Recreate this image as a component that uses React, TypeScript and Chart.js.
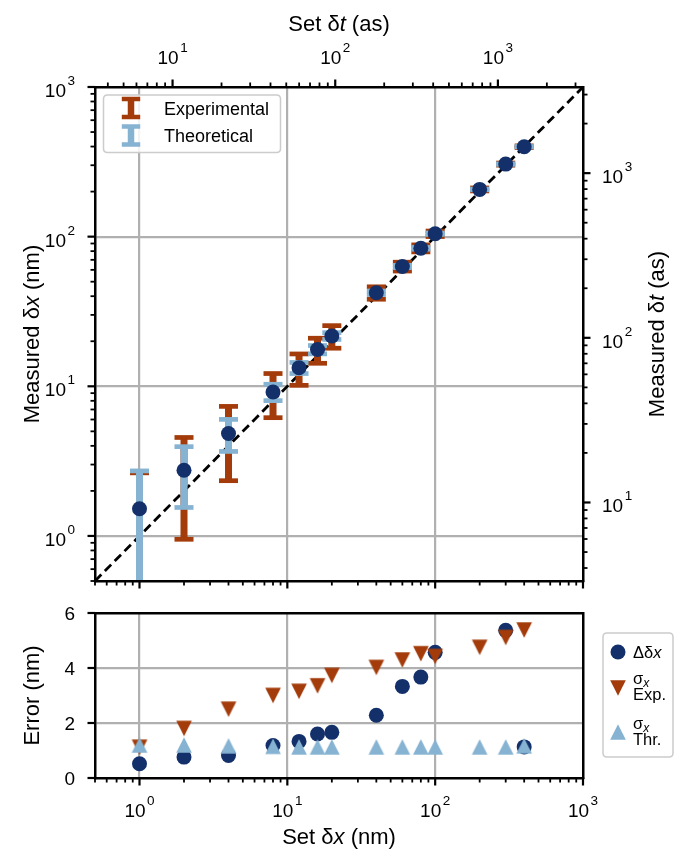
import React, { useEffect, useRef } from 'react';
import { Chart, registerables } from 'chart.js';

Chart.register(...registerables);

// ---------- data ----------
const setDx = [1, 2, 4, 8, 12, 16, 20, 40, 60, 80, 100, 200, 300, 400];
const measuredDx = [1.52, 2.75, 4.84, 9.17, 13.3, 17.6, 21.7, 42.2, 63.2, 83.6, 104.6, 206.8, 305.4, 398.9];
const sigmaExp = [1.12, 1.8, 2.5, 3.0, 3.15, 3.35, 3.73, 4.02, 4.29, 4.52, 4.42, 4.75, 5.11, 5.38];
const sigmaThr = [1.2, 1.2, 1.17, 1.15, 1.13, 1.13, 1.13, 1.13, 1.13, 1.13, 1.13, 1.13, 1.13, 1.17];
const deltaDx = [0.52, 0.76, 0.82, 1.18, 1.33, 1.6, 1.66, 2.28, 3.33, 3.67, 4.57, 6.8, 5.37, 1.13];

const xLimits = [0.5, 1000];
const yLimitsTop = [0.5, 1000];
const twinLimits = [3.3356, 3335.6];
const errLimits = [0, 6];
const errTicks = [0, 2, 4, 6];

// ---------- style ----------
const NAVY = '#13306a';
const RED = '#a33b0a';
const LBLUE = '#86b3d2';
const GRID = '#b0b0b0';
const CLEAR = 'rgba(0,0,0,0)';
const FONT = '"Liberation Sans", Arial, Helvetica, sans-serif';
const TICK = 19;
const SUP = 13.5;
const RAISE = 12;
const TITLE = 22;

type Part = { t: string; it?: boolean; size: number; dy?: number; dx?: number };

function fontOf(p: Part) {
  return `${p.it ? 'italic ' : ''}${p.size}px ${FONT}`;
}

function drawRich(ctx: CanvasRenderingContext2D, parts: Part[], x: number, y: number, align: 'left' | 'center' | 'right', rot = 0) {
  ctx.save();
  ctx.translate(x, y);
  if (rot) ctx.rotate(rot);
  ctx.textBaseline = 'alphabetic';
  ctx.textAlign = 'left';
  ctx.fillStyle = '#000';
  let total = 0;
  const widths = parts.map((p) => {
    ctx.font = fontOf(p);
    const w = ctx.measureText(p.t).width + (p.dx || 0);
    total += w;
    return w;
  });
  let cx = align === 'left' ? 0 : align === 'center' ? -total / 2 : -total;
  parts.forEach((p, i) => {
    ctx.font = fontOf(p);
    ctx.fillText(p.t, cx + (p.dx || 0), p.dy || 0);
    cx += widths[i];
  });
  ctx.restore();
}

function pow10(e: number): Part[] {
  return [
    { t: '10', size: TICK },
    { t: String(e), size: SUP, dy: -RAISE, dx: 1.5 },
  ];
}

function isMajor(v: number) {
  const l = Math.log10(v);
  return Math.abs(l - Math.round(l)) < 1e-6;
}

function logTicks(min: number, max: number) {
  const out: number[] = [];
  for (let e = Math.floor(Math.log10(min)); e <= Math.ceil(Math.log10(max)); e++) {
    for (let m = 1; m <= 9; m++) {
      const v = parseFloat((m * Math.pow(10, e)).toPrecision(12));
      if (v >= min * (1 - 1e-9) && v <= max * (1 + 1e-9)) out.push(v);
    }
  }
  return out;
}

const spine = { display: true, color: '#000', width: 2.5, z: 1 };

function logAxis(pos: string, lim: number[], size: number, grid: boolean) {
  return {
    type: 'logarithmic',
    position: pos,
    min: lim[0],
    max: lim[1],
    ticks: { display: false, callback: () => '' },
    grid: grid
      ? {
          drawOnChartArea: true,
          drawTicks: false,
          lineWidth: 2.2,
          color: (c: any) =>
            c.tick && isMajor(c.tick.value) && c.tick.value > lim[0] * 1.0001 && c.tick.value < lim[1] * 0.9999 ? GRID : CLEAR,
        }
      : { drawOnChartArea: false, drawTicks: false },
    border: spine,
    afterBuildTicks: (s: any) => {
      s.ticks = logTicks(lim[0], lim[1]).map((value) => ({ value }));
    },
    afterFit: (s: any) => {
      if (pos === 'left' || pos === 'right') s.width = size;
      else s.height = size;
    },
  };
}

function plainAxis(pos: string, size: number) {
  return {
    type: 'linear',
    position: pos,
    display: true,
    ticks: { display: false },
    grid: { drawOnChartArea: false, drawTicks: false },
    border: spine,
    afterFit: (s: any) => {
      if (pos === 'left' || pos === 'right') s.width = size;
      else s.height = size;
    },
  };
}

function drawTickMarks(ctx: CanvasRenderingContext2D, chart: any, scaleId: string, side: string, values: number[], majorFn: (v: number) => boolean) {
  const a = chart.chartArea;
  const s = chart.scales[scaleId];
  ctx.save();
  ctx.strokeStyle = '#000';
  values.forEach((v) => {
    const p = s.getPixelForValue(v);
    const major = majorFn(v);
    const len = major ? 7.5 : 4.5;
    ctx.lineWidth = major ? 2.2 : 1.8;
    ctx.beginPath();
    if (side === 'left') { ctx.moveTo(a.left, p); ctx.lineTo(a.left - len, p); }
    if (side === 'right') { ctx.moveTo(a.right, p); ctx.lineTo(a.right + len, p); }
    if (side === 'top') { ctx.moveTo(p, a.top); ctx.lineTo(p, a.top - len); }
    if (side === 'bottom') { ctx.moveTo(p, a.bottom); ctx.lineTo(p, a.bottom + len); }
    ctx.stroke();
  });
  ctx.restore();
}

function roundRect(ctx: CanvasRenderingContext2D, x: number, y: number, w: number, h: number, r: number) {
  ctx.beginPath();
  ctx.moveTo(x + r, y);
  ctx.lineTo(x + w - r, y);
  ctx.quadraticCurveTo(x + w, y, x + w, y + r);
  ctx.lineTo(x + w, y + h - r);
  ctx.quadraticCurveTo(x + w, y + h, x + w - r, y + h);
  ctx.lineTo(x + r, y + h);
  ctx.quadraticCurveTo(x, y + h, x, y + h - r);
  ctx.lineTo(x, y + r);
  ctx.quadraticCurveTo(x, y, x + r, y);
  ctx.closePath();
}

function legendBox(ctx: CanvasRenderingContext2D, x: number, y: number, w: number, h: number) {
  ctx.save();
  roundRect(ctx, x, y, w, h, 4);
  ctx.fillStyle = 'rgba(255,255,255,0.85)';
  ctx.fill();
  ctx.strokeStyle = '#cccccc';
  ctx.lineWidth = 1.5;
  ctx.stroke();
  ctx.restore();
}

function errIcon(ctx: CanvasRenderingContext2D, cx: number, cy: number, color: string) {
  ctx.save();
  ctx.strokeStyle = color;
  ctx.lineWidth = 6.5;
  ctx.beginPath();
  ctx.moveTo(cx, cy - 9);
  ctx.lineTo(cx, cy + 9);
  ctx.stroke();
  ctx.lineWidth = 4.5;
  ctx.beginPath();
  ctx.moveTo(cx - 9.2, cy - 9);
  ctx.lineTo(cx + 9.2, cy - 9);
  ctx.moveTo(cx - 9.2, cy + 9);
  ctx.lineTo(cx + 9.2, cy + 9);
  ctx.stroke();
  ctx.restore();
}

function triPath(ctx: CanvasRenderingContext2D, cx: number, cy: number, h: number, up: boolean) {
  ctx.beginPath();
  if (up) {
    ctx.moveTo(cx, cy - h);
    ctx.lineTo(cx + h, cy + h);
    ctx.lineTo(cx - h, cy + h);
  } else {
    ctx.moveTo(cx - h, cy - h);
    ctx.lineTo(cx + h, cy - h);
    ctx.lineTo(cx, cy + h);
  }
  ctx.closePath();
}

function triCanvas(color: string, up: boolean) {
  const c = document.createElement('canvas');
  c.width = 18;
  c.height = 18;
  const g = c.getContext('2d')!;
  g.fillStyle = color;
  triPath(g, 9, 9, 7.8, up);
  g.fill();
  return c;
}

// ---------- plugins ----------
const topDecor = {
  id: 'topDecor',
  afterDraw(chart: any) {
    const ctx: CanvasRenderingContext2D = chart.ctx;
    const a = chart.chartArea;
    const lt = logTicks(xLimits[0], xLimits[1]);
    const ltY = logTicks(yLimitsTop[0], yLimitsTop[1]);
    const tw = logTicks(twinLimits[0], twinLimits[1]);
    drawTickMarks(ctx, chart, 'x', 'bottom', lt, isMajor);
    drawTickMarks(ctx, chart, 'x2', 'top', tw, isMajor);
    drawTickMarks(ctx, chart, 'y', 'left', ltY, isMajor);
    drawTickMarks(ctx, chart, 'y2', 'right', tw, isMajor);

    ltY.filter(isMajor).forEach((v) => {
      const p = chart.scales.y.getPixelForValue(v);
      drawRich(ctx, pow10(Math.round(Math.log10(v))), a.left - 20, p + 10, 'right');
    });
    tw.filter(isMajor).forEach((v) => {
      const p = chart.scales.y2.getPixelForValue(v);
      drawRich(ctx, pow10(Math.round(Math.log10(v))), a.right + 19, p + 10, 'left');
      const px = chart.scales.x2.getPixelForValue(v);
      drawRich(ctx, pow10(Math.round(Math.log10(v))), px, a.top - 23, 'center');
    });

    const midX = (a.left + a.right) / 2;
    const midY = (a.top + a.bottom) / 2;
    drawRich(ctx, [{ t: 'Set δ', size: TITLE }, { t: 't', it: true, size: TITLE }, { t: ' (as)', size: TITLE }], midX, 31, 'center');
    drawRich(ctx, [{ t: 'Measured δ', size: TITLE }, { t: 'x', it: true, size: TITLE }, { t: ' (nm)', size: TITLE }], 39, midY, 'center', -Math.PI / 2);
    drawRich(ctx, [{ t: 'Measured δ', size: TITLE }, { t: 't', it: true, size: TITLE }, { t: ' (as)', size: TITLE }], 664, midY, 'center', -Math.PI / 2);

    // legend
    legendBox(ctx, 103.5, 95, 177, 57.5);
    errIcon(ctx, 131, 108, RED);
    errIcon(ctx, 131, 135.5, LBLUE);
    drawRich(ctx, [{ t: 'Experimental', size: 18 }], 164, 114.5, 'left');
    drawRich(ctx, [{ t: 'Theoretical', size: 18 }], 164, 142, 'left');
  },
};

const botDecor = {
  id: 'botDecor',
  afterDraw(chart: any) {
    const ctx: CanvasRenderingContext2D = chart.ctx;
    const a = chart.chartArea;
    const lt = logTicks(xLimits[0], xLimits[1]);
    drawTickMarks(ctx, chart, 'x', 'bottom', lt, isMajor);
    drawTickMarks(ctx, chart, 'y', 'left', errTicks, () => true);
    lt.filter(isMajor).forEach((v) => {
      const p = chart.scales.x.getPixelForValue(v);
      drawRich(ctx, pow10(Math.round(Math.log10(v))), p, a.bottom + 39, 'center');
    });
    errTicks.forEach((v) => {
      const p = chart.scales.y.getPixelForValue(v);
      drawRich(ctx, [{ t: String(v), size: TICK }], a.left - 20, p + 7, 'right');
    });
    const midX = (a.left + a.right) / 2;
    const midY = (a.top + a.bottom) / 2;
    drawRich(ctx, [{ t: 'Set δ', size: TITLE }, { t: 'x', it: true, size: TITLE }, { t: ' (nm)', size: TITLE }], midX, 243.5, 'center');
    drawRich(ctx, [{ t: 'Error (nm)', size: TITLE }], 39, midY, 'center', -Math.PI / 2);

    // legend
    legendBox(ctx, 603, 33, 70, 124);
    ctx.save();
    ctx.fillStyle = NAVY;
    ctx.beginPath();
    ctx.arc(618, 52, 7.5, 0, Math.PI * 2);
    ctx.fill();
    ctx.fillStyle = RED;
    triPath(ctx, 618, 88, 7.8, false);
    ctx.fill();
    ctx.fillStyle = LBLUE;
    triPath(ctx, 618, 132, 7.8, true);
    ctx.fill();
    ctx.restore();
    drawRich(ctx, [{ t: 'Δδ', size: 16.5 }, { t: 'x', it: true, size: 16.5 }], 633, 58, 'left');
    drawRich(ctx, [{ t: 'σ', size: 16.5 }, { t: 'x', it: true, size: 12, dy: 3 }], 633, 84, 'left');
    drawRich(ctx, [{ t: 'Exp.', size: 16.5 }], 633, 100, 'left');
    drawRich(ctx, [{ t: 'σ', size: 16.5 }, { t: 'x', it: true, size: 12, dy: 3 }], 633, 129, 'left');
    drawRich(ctx, [{ t: 'Thr.', size: 16.5 }], 633, 145, 'left');
  },
};

function errData(sig: number[]) {
  return setDx.flatMap((x, i) => [
    { x, y: Math.max(measuredDx[i] - sig[i], 1e-3) },
    { x, y: measuredDx[i] + sig[i] },
    { x, y: null },
  ]);
}

function errDataset(label: string, sig: number[], color: string, order: number) {
  return {
    label,
    data: errData(sig),
    showLine: true,
    spanGaps: false,
    borderColor: color,
    borderWidth: 7,
    pointStyle: 'line',
    pointRadius: 9.5,
    pointBorderWidth: 4.7,
    pointBorderColor: color,
    pointBackgroundColor: color,
    clip: 0,
    order,
    xAxisID: 'x',
    yAxisID: 'y',
  };
}

function topConfig(): any {
  return {
    type: 'scatter',
    data: {
      datasets: [
        {
          label: 'identity',
          data: xLimits.map((v) => ({ x: v, y: v })),
          showLine: true,
          borderColor: '#000',
          borderWidth: 2.8,
          borderDash: [9, 5],
          pointRadius: 0,
          clip: 0,
          order: 4,
          xAxisID: 'x',
          yAxisID: 'y',
        },
        errDataset('Experimental', sigmaExp, RED, 3),
        errDataset('Theoretical', sigmaThr, LBLUE, 2),
        {
          label: 'Measured',
          data: setDx.map((x, i) => ({ x, y: measuredDx[i] })),
          showLine: false,
          pointRadius: 7.5,
          pointBorderWidth: 0,
          pointBackgroundColor: NAVY,
          pointBorderColor: NAVY,
          clip: 0,
          order: 1,
          xAxisID: 'x',
          yAxisID: 'y',
        },
      ],
    },
    options: {
      responsive: false,
      animation: false,
      events: [],
      layout: { padding: 0 },
      plugins: { legend: { display: false }, tooltip: { enabled: false } },
      scales: {
        x: logAxis('bottom', xLimits, 19, true),
        y: logAxis('left', yLimitsTop, 95, true),
        x2: logAxis('top', twinLimits, 87, false),
        y2: logAxis('right', twinLimits, 93, false),
      },
    },
    plugins: [topDecor],
  };
}

function botConfig(): any {
  const down = triCanvas(RED, false);
  const up = triCanvas(LBLUE, true);
  return {
    type: 'scatter',
    data: {
      datasets: [
        {
          label: 'Δδx',
          data: setDx.map((x, i) => ({ x, y: deltaDx[i] })),
          pointRadius: 7.5,
          pointBorderWidth: 0,
          pointBackgroundColor: NAVY,
          pointBorderColor: NAVY,
          clip: 0,
          order: 3,
          xAxisID: 'x',
          yAxisID: 'y',
        },
        {
          label: 'σx Exp.',
          data: setDx.map((x, i) => ({ x, y: sigmaExp[i] })),
          pointStyle: down,
          pointRadius: 8,
          clip: 0,
          order: 2,
          xAxisID: 'x',
          yAxisID: 'y',
        },
        {
          label: 'σx Thr.',
          data: setDx.map((x, i) => ({ x, y: sigmaThr[i] })),
          pointStyle: up,
          pointRadius: 8,
          clip: 0,
          order: 1,
          xAxisID: 'x',
          yAxisID: 'y',
        },
      ],
    },
    options: {
      responsive: false,
      animation: false,
      events: [],
      layout: { padding: 0 },
      plugins: { legend: { display: false }, tooltip: { enabled: false } },
      scales: {
        x: logAxis('bottom', xLimits, 74, true),
        y: {
          type: 'linear',
          position: 'left',
          min: errLimits[0],
          max: errLimits[1],
          ticks: { display: false },
          grid: {
            drawTicks: false,
            lineWidth: 2.2,
            color: (c: any) => (c.tick && c.tick.value > errLimits[0] && c.tick.value < errLimits[1] ? GRID : CLEAR),
          },
          border: spine,
          afterBuildTicks: (s: any) => {
            s.ticks = errTicks.map((value) => ({ value }));
          },
          afterFit: (s: any) => {
            s.width = 95;
          },
        },
        x2: plainAxis('top', 13),
        y2: plainAxis('right', 93),
      },
    },
    plugins: [botDecor],
  };
}

export default function App() {
  const topRef = useRef<HTMLCanvasElement>(null);
  const botRef = useRef<HTMLCanvasElement>(null);
  useEffect(() => {
    const c1 = new Chart(topRef.current as HTMLCanvasElement, topConfig());
    const c2 = new Chart(botRef.current as HTMLCanvasElement, botConfig());
    return () => {
      c1.destroy();
      c2.destroy();
    };
  }, []);
  return (
    <div style={{ position: 'absolute', left: 0, top: 0, width: 676, height: 852, background: '#fff' }}>
      <canvas ref={topRef} width={676} height={600} style={{ position: 'absolute', left: 0, top: 0, width: 676, height: 600 }} />
      <canvas ref={botRef} width={676} height={252} style={{ position: 'absolute', left: 0, top: 600, width: 676, height: 252 }} />
    </div>
  );
}
